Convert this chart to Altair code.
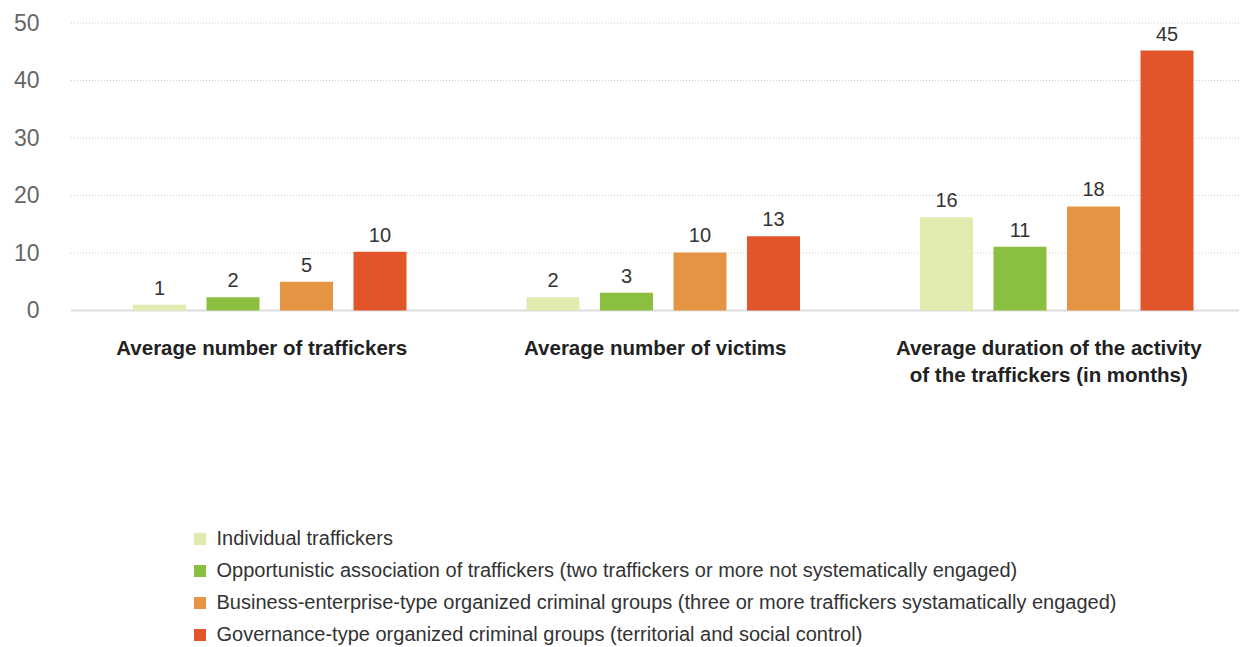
import altair as alt
import pandas as pd

categories = [
    "Average number of traffickers",
    "Average number of victims",
    "Average duration of the activity|of the traffickers (in months)",
]
series = [
    "Individual traffickers",
    "Opportunistic association of traffickers (two traffickers or more not systematically engaged)",
    "Business-enterprise-type organized criminal groups (three or more traffickers systamatically engaged)",
    "Governance-type organized criminal groups (territorial and social control)",
]
values_individual = [1.0, 2.3, 16.2]
values_opportunistic = [2.3, 3.1, 11.1]
values_business = [5.0, 10.1, 18.1]
values_governance = [10.2, 12.9, 45.2]
colors = ["#e0ebb0", "#8bbf3f", "#e59443", "#e2552a"]
y_ticks = [0, 10, 20, 30, 40, 50]

all_values = [values_individual, values_opportunistic, values_business, values_governance]
rows = []
for s, vals in zip(series, all_values):
    for c, v in zip(categories, vals):
        rows.append({"category": c, "series": s, "value": v})
df = pd.DataFrame(rows)
grid_df = pd.DataFrame({"value": [t for t in y_ticks if t > 0]})
base_df = pd.DataFrame({"value": [y_ticks[0]]})

FONT = "Liberation Sans"
W = 1168

x = alt.X(
    "category:N",
    sort=categories,
    title=None,
    scale=alt.Scale(paddingInner=0.305, paddingOuter=0, range=[62, 1122.5]),
    axis=alt.Axis(
        labelAngle=0,
        labelExpr="split(datum.label, '|')",
        labelFont=FONT,
        labelFontSize=20.5,
        labelFontWeight="bold",
        labelColor="#222222",
        labelPadding=28,
        labelBaseline="top",
        labelLineHeight=27,
        labelOffset=-8,
        ticks=False,
        domain=False,
        labelLimit=500,
    ),
)
xo = alt.XOffset(
    "series:N",
    sort=series,
    scale=alt.Scale(paddingInner=0.279, paddingOuter=0),
)
yscale = alt.Scale(domain=[0, 50], nice=False)
yaxis = alt.Axis(
    values=y_ticks,
    labelFont=FONT,
    labelFontSize=23,
    labelColor="#666666",
    labelPadding=32,
    ticks=False,
    domain=False,
    grid=False,
)
y = alt.Y("value:Q", title=None, scale=yscale, axis=yaxis)

grid = alt.Chart(grid_df).mark_rule(color="#cccccc", strokeDash=[1, 2], strokeWidth=1).encode(
    y=alt.Y("value:Q", title=None, scale=yscale, axis=yaxis),
    x=alt.value(0),
    x2=alt.value(W),
)
base = alt.Chart(base_df).mark_rule(color="#dddddd", strokeWidth=2).encode(
    y=alt.Y("value:Q", title=None, scale=yscale, axis=yaxis),
    x=alt.value(0),
    x2=alt.value(W),
)

bars = alt.Chart(df).mark_bar().encode(
    x=x,
    xOffset=xo,
    y=y,
    color=alt.Color(
        "series:N",
        sort=series,
        scale=alt.Scale(domain=series, range=colors),
        legend=alt.Legend(
            title=None,
            orient="none",
            legendX=119,
            legendY=506,
            direction="vertical",
            symbolType="square",
            symbolSize=144,
            symbolStrokeWidth=0,
            labelFont=FONT,
            labelFontSize=20,
            labelColor="#333333",
            labelLimit=1100,
            labelOffset=6.5,
            rowPadding=12,
        ),
    ),
)

labels = alt.Chart(df).mark_text(
    baseline="alphabetic", dy=-10, font=FONT, fontSize=20, color="#333333"
).encode(
    x=alt.X("category:N", sort=categories),
    xOffset=alt.XOffset("series:N", sort=series),
    y=y,
    text=alt.Text("value:Q", format=".0f"),
)

chart = (
    alt.layer(grid, base, bars, labels)
    .properties(width=W, height=287.5, padding={"left": 5, "top": 4, "right": 0, "bottom": 0})
    .configure_view(stroke=None)
)

chart.save("out.html", embed_options={"renderer": "svg", "actions": False})
